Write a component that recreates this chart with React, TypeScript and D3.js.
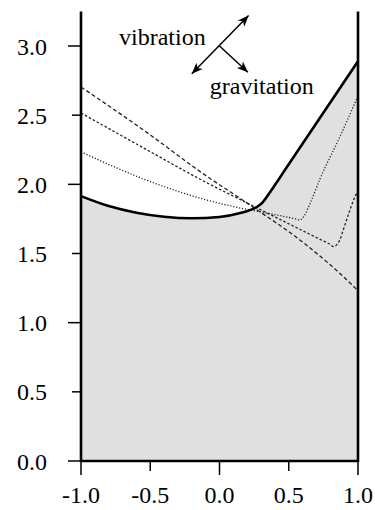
import React from "react";
import * as d3 from "d3";

// boundary curve (thick, filled below)
const edgeX = [-1, -0.8, -0.6, -0.4, -0.2, 0, 0.15, 0.25, 0.28, 0.31, 0.35, 0.4, 0.45, 0.5, 1.0];
const edgeY = [1.915, 1.843, 1.795, 1.766, 1.755, 1.764, 1.792, 1.826, 1.843, 1.868, 1.922, 1.995, 2.07, 2.145, 2.89];

// dashed curves
const dashAX = [-1, -0.5, -0.14, 0.25, 0.58, 0.97, 1.0];
const dashAY = [2.704, 2.357, 2.092, 1.83, 1.598, 1.26, 1.23];

const dashBX = [-1, -0.5, -0.14, 0.25, 0.58, 0.72, 0.8, 0.822, 0.87, 0.894, 0.942, 0.978, 1.0];
const dashBY = [2.516, 2.236, 2.037, 1.84, 1.675, 1.605, 1.565, 1.55, 1.6, 1.672, 1.815, 1.911, 1.95];

const dashCX = [-1, -0.5, -0.14, 0.0, 0.1, 0.3, 0.55, 0.581, 0.61, 0.653, 0.726, 0.87, 1.0];
const dashCY = [2.234, 2.02, 1.9, 1.863, 1.839, 1.8, 1.75, 1.743, 1.77, 1.86, 2.04, 2.345, 2.64];

const xTicks = [-1, -0.5, 0, 0.5, 1];
const yTicks = [0, 0.5, 1, 1.5, 2, 2.5, 3];

const W = 375;
const H = 510;
const FONT = "'Liberation Serif', 'Times New Roman', serif";

const App: React.FC = () => {
    const x = d3.scaleLinear().domain([-1, 1]).range([81, 358]);
    const y = d3.scaleLinear().domain([0, 3]).range([461, 46]);
    const yTop = 3.25;

    const zip = (xs: number[], ys: number[]) => xs.map((v, i) => [v, ys[i]] as [number, number]);

    const line = d3
        .line<[number, number]>()
        .x((d) => x(d[0]))
        .y((d) => y(d[1]))
        .curve(d3.curveMonotoneX);

    const area = d3
        .area<[number, number]>()
        .x((d) => x(d[0]))
        .y0(y(0))
        .y1((d) => y(d[1]))
        .curve(d3.curveMonotoneX);

    const edge = zip(edgeX, edgeY);

    const dashed = [
        { pts: zip(dashAX, dashAY), dash: "4,2.5" },
        { pts: zip(dashBX, dashBY), dash: "2.5,2" },
        { pts: zip(dashCX, dashCY), dash: "1.2,1.8" },
    ];

    // arrow annotation, centred at (0, 3.0)
    const cx = x(0);
    const cy = y(3.0);
    const arrowHead = (x1: number, y1: number, x2: number, y2: number) => {
        const a = Math.atan2(y2 - y1, x2 - x1);
        const len = 11;
        const wid = 4.5;
        const bx = x2 - len * Math.cos(a);
        const by = y2 - len * Math.sin(a);
        const px = -Math.sin(a) * wid;
        const py = Math.cos(a) * wid;
        return `M${x2},${y2}L${bx + px},${by + py}L${bx + 3 * Math.cos(a)},${by + 3 * Math.sin(a)}L${bx - px},${by - py}Z`;
    };
    const upR = [x(0.21), y(3.22)];
    const downL = [x(-0.2), y(2.8)];
    const downR = [x(0.205), y(2.81)];

    return (
        <svg
            width={W}
            height={H}
            style={{ position: "absolute", left: 0, top: 0, background: "#fff" }}
            fontFamily={FONT}
        >
            <path d={area(edge) || ""} fill="#e0e0e0" />
            {dashed.map((d, i) => (
                <path
                    key={i}
                    d={line(d.pts) || ""}
                    fill="none"
                    stroke="#222"
                    strokeWidth={1.3}
                    strokeDasharray={d.dash}
                />
            ))}
            <path d={line(edge) || ""} fill="none" stroke="#000" strokeWidth={2.6} />

            {/* frame */}
            <line x1={x(-1)} x2={x(-1)} y1={y(yTop)} y2={y(0) + 1} stroke="#000" strokeWidth={2.6} />
            <line x1={x(1)} x2={x(1)} y1={y(yTop)} y2={y(0) + 1} stroke="#000" strokeWidth={2.6} />
            <line x1={x(-1)} x2={x(1) + 1} y1={y(0)} y2={y(0)} stroke="#000" strokeWidth={2.6} />

            {/* y ticks */}
            {yTicks.map((t) => {
                const major = Number.isInteger(t);
                return (
                    <g key={"y" + t}>
                        <line
                            x1={x(-1) - (major ? 13 : 9)}
                            x2={x(-1)}
                            y1={y(t)}
                            y2={y(t)}
                            stroke="#000"
                            strokeWidth={1.5}
                        />
                        <text x={47} y={y(t) + 8.5} textAnchor="end" fontSize={24} fill="#000">
                            {t.toFixed(1)}
                        </text>
                    </g>
                );
            })}

            {/* x ticks */}
            {xTicks.map((t) => {
                const major = Number.isInteger(t);
                return (
                    <g key={"x" + t}>
                        <line
                            x1={x(t)}
                            x2={x(t)}
                            y1={y(0)}
                            y2={y(0) + (major ? 14 : 10)}
                            stroke="#000"
                            strokeWidth={1.5}
                        />
                        <text x={x(t)} y={503} textAnchor="middle" fontSize={24} fill="#000">
                            {t.toFixed(1)}
                        </text>
                    </g>
                );
            })}

            {/* annotation */}
            <line x1={downL[0]} y1={downL[1]} x2={upR[0]} y2={upR[1]} stroke="#000" strokeWidth={1.5} />
            <line x1={cx} y1={cy} x2={downR[0]} y2={downR[1]} stroke="#000" strokeWidth={1.5} />
            <path d={arrowHead(cx, cy, upR[0], upR[1])} fill="#000" />
            <path d={arrowHead(cx, cy, downL[0], downL[1])} fill="#000" />
            <path d={arrowHead(cx, cy, downR[0], downR[1])} fill="#000" />
            <text x={x(-0.1)} y={y(3.0) - 1} textAnchor="end" fontSize={24} fill="#000">
                vibration
            </text>
            <text x={x(-0.07)} y={y(2.655)} textAnchor="start" fontSize={24} fill="#000">
                gravitation
            </text>
        </svg>
    );
};

export default App;
